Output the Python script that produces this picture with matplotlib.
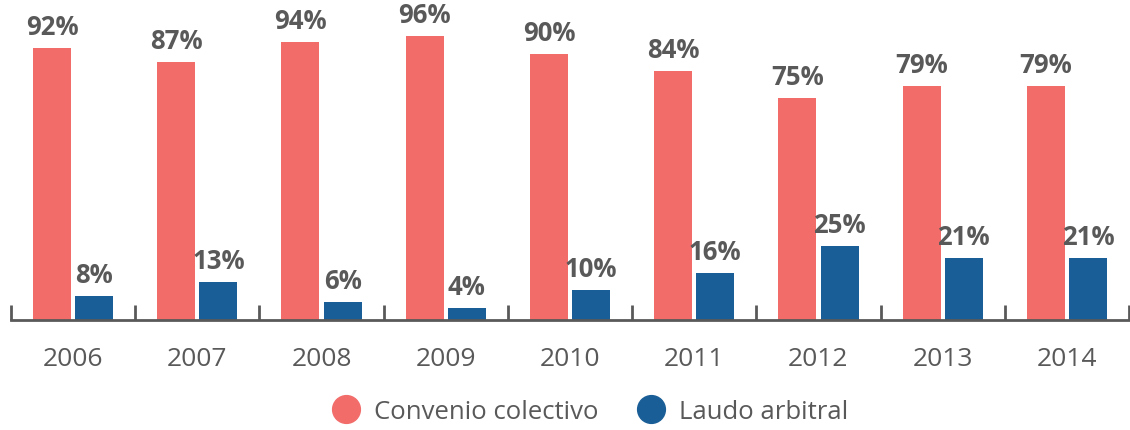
import numpy as np
import matplotlib.pyplot as plt
from matplotlib.lines import Line2D

years = ['2006', '2007', '2008', '2009', '2010', '2011', '2012', '2013', '2014']
convenio = [92, 87, 94, 96, 90, 84, 75, 79, 79]
laudo = [8, 13, 6, 4, 10, 16, 25, 21, 21]
series_names = ['Convenio colectivo', 'Laudo arbitral']

RED = '#F26C6A'
BLUE = '#1A5E97'
GRAY = '#595959'

plt.rcParams['font.family'] = ['Open Sans', 'DejaVu Sans']

fig = plt.figure(figsize=(11.3, 4.31), dpi=100)
ax = fig.add_axes([11 / 1130, 110 / 431, 1118 / 1130, 296 / 431])

x = np.arange(len(years))
w = 0.306
off = 0.17
b1 = ax.bar(x - off, convenio, w, color=RED)
b2 = ax.bar(x + off, laudo, w, color=BLUE)

for bars, vals in ((b1, convenio), (b2, laudo)):
    for rect, v in zip(bars, vals):
        ax.text(rect.get_x() + rect.get_width() / 2, v + 2.7, f'{v}%',
                ha='center', va='bottom', fontsize=18.5, fontweight='bold', color=GRAY)

ax.set_xlim(-0.5, len(years) - 0.5)
ax.set_ylim(0, 100)
for s in ['top', 'right', 'left']:
    ax.spines[s].set_visible(False)
ax.spines['bottom'].set_color(GRAY)
ax.spines['bottom'].set_linewidth(2)
ax.set_yticks([])

# tick marks between categories
ax.set_xticks(np.arange(len(years) + 1) - 0.5, minor=True)
ax.tick_params(axis='x', which='minor', direction='in', length=11, width=2, color=GRAY)
ax.set_xticks(x)
ax.set_xticklabels(years)
ax.tick_params(axis='x', which='major', length=0, pad=19, labelsize=19, labelcolor=GRAY)

handles = [Line2D([], [], marker='o', linestyle='', markersize=20, color=c)
           for c in (RED, BLUE)]
fig.legend(handles, series_names, loc='center', bbox_to_anchor=(0.517, 0.043),
           ncol=2, frameon=False, fontsize=18.5, labelcolor=GRAY,
           handletextpad=0.1, columnspacing=1.03)

fig.savefig('out.png', dpi=100)
